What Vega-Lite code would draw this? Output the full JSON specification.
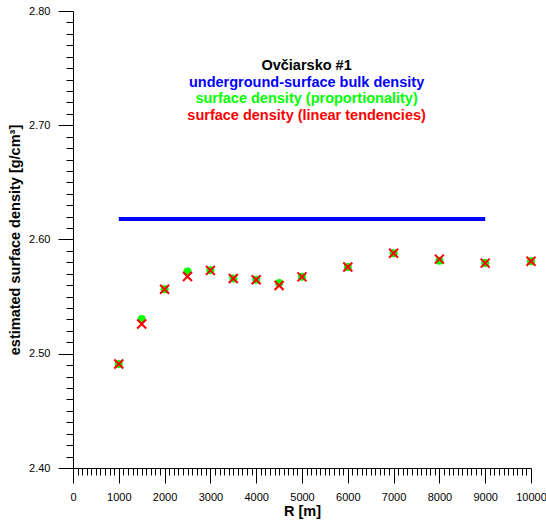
{
  "$schema": "https://vega.github.io/schema/vega-lite/v6.json",
  "autosize": {"type": "none"},
  "padding": {"left": 73, "top": 11, "right": 15, "bottom": 56},
  "width": 458,
  "height": 457,
  "background": "white",
  "config": {
    "view": {"stroke": null},
    "font": "Liberation Sans",
    "axis": {
      "labelFont": "Liberation Sans",
      "titleFont": "Liberation Sans",
      "labelFontSize": 11,
      "labelColor": "#000",
      "titleColor": "#000",
      "titleFontSize": 14.5,
      "titleFontWeight": "bold",
      "domainColor": "#000",
      "tickColor": "#000",
      "grid": false,
      "labelFlush": false,
      "labelOverlap": false
    }
  },
  "datasets": {
    "prop": [
      {"R": 1000, "d": 2.491},
      {"R": 1500, "d": 2.5305},
      {"R": 2000, "d": 2.5565},
      {"R": 2500, "d": 2.572},
      {"R": 3000, "d": 2.573},
      {"R": 3500, "d": 2.5658},
      {"R": 4000, "d": 2.5647},
      {"R": 4500, "d": 2.562},
      {"R": 5000, "d": 2.5673},
      {"R": 6000, "d": 2.576},
      {"R": 7000, "d": 2.588},
      {"R": 8000, "d": 2.5815},
      {"R": 9000, "d": 2.5795},
      {"R": 10000, "d": 2.581}
    ],
    "lin": [
      {"R": 1000, "d": 2.491},
      {"R": 1500, "d": 2.526},
      {"R": 2000, "d": 2.5565},
      {"R": 2500, "d": 2.5676},
      {"R": 3000, "d": 2.573},
      {"R": 3500, "d": 2.5658},
      {"R": 4000, "d": 2.5647},
      {"R": 4500, "d": 2.5597},
      {"R": 5000, "d": 2.5673},
      {"R": 6000, "d": 2.576},
      {"R": 7000, "d": 2.588},
      {"R": 8000, "d": 2.5828},
      {"R": 9000, "d": 2.5793},
      {"R": 10000, "d": 2.581}
    ],
    "bulk": [{"R": 1000, "R2": 9000, "d": 2.618}],
    "notes": [
      {"R": 5100, "d": 2.7484, "text": "Ovčiarsko #1", "c": "#000000"},
      {"R": 5100, "d": 2.7338, "text": "underground-surface bulk density", "c": "#0000FF"},
      {"R": 5100, "d": 2.7192, "text": "surface density (proportionality)", "c": "#00FF00"},
      {"R": 5100, "d": 2.7046, "text": "surface density (linear tendencies)", "c": "#FF0000"}
    ]
  },
  "encoding": {
    "x": {
      "field": "R", "type": "quantitative",
      "scale": {"domain": [0, 10000], "nice": false, "zero": false},
      "axis": {
        "title": "R [m]",
        "values": [0,100,200,300,400,500,600,700,800,900,1000,1100,1200,1300,1400,1500,1600,1700,1800,1900,2000,2100,2200,2300,2400,2500,2600,2700,2800,2900,3000,3100,3200,3300,3400,3500,3600,3700,3800,3900,4000,4100,4200,4300,4400,4500,4600,4700,4800,4900,5000,5100,5200,5300,5400,5500,5600,5700,5800,5900,6000,6100,6200,6300,6400,6500,6600,6700,6800,6900,7000,7100,7200,7300,7400,7500,7600,7700,7800,7900,8000,8100,8200,8300,8400,8500,8600,8700,8800,8900,9000,9100,9200,9300,9400,9500,9600,9700,9800,9900,10000],
        "labelExpr": "datum.value % 1000 === 0 ? format(datum.value, 'd') : ''",
        "tickSize": {"condition": {"test": "datum.value % 1000 === 0", "value": 15}, "value": 7},
        "labelPadding": 8,
        "titlePadding": 2
      }
    },
    "y": {
      "field": "d", "type": "quantitative",
      "scale": {"domain": [2.4, 2.8], "nice": false, "zero": false},
      "axis": {
        "title": "estimated surface density [g/cm³]",
        "values": [2.4,2.41,2.42,2.43,2.44,2.45,2.46,2.47,2.48,2.49,2.5,2.51,2.52,2.53,2.54,2.55,2.56,2.57,2.58,2.59,2.6,2.61,2.62,2.63,2.64,2.65,2.66,2.67,2.68,2.69,2.7,2.71,2.72,2.73,2.74,2.75,2.76,2.77,2.78,2.79,2.8],
        "labelExpr": "abs(datum.value * 10 - round(datum.value * 10)) < 0.001 ? format(datum.value, '.2f') : ''",
        "tickSize": {"condition": {"test": "abs(datum.value * 10 - round(datum.value * 10)) < 0.001", "value": 15}, "value": 7},
        "labelPadding": 8,
        "titlePadding": 6
      }
    }
  },
  "layer": [
    {
      "data": {"name": "bulk"},
      "mark": {"type": "rule", "color": "#0000FF", "strokeWidth": 4},
      "encoding": {"x2": {"field": "R2"}}
    },
    {
      "data": {"name": "prop"},
      "mark": {"type": "point", "shape": "circle", "filled": true, "color": "#00FF00", "size": 64, "opacity": 1}
    },
    {
      "data": {"name": "lin"},
      "mark": {"type": "point", "shape": "M -1 -1 L 1 1 M 1 -1 L -1 1", "filled": false, "stroke": "#FF0000", "strokeWidth": 2, "size": 81, "opacity": 1}
    },
    {
      "data": {"name": "notes"},
      "mark": {"type": "text", "font": "Liberation Sans", "fontWeight": "bold", "fontSize": 14.5, "align": "center", "baseline": "alphabetic"},
      "encoding": {
        "text": {"field": "text"},
        "color": {"field": "c", "type": "nominal", "scale": null}
      }
    }
  ]
}
